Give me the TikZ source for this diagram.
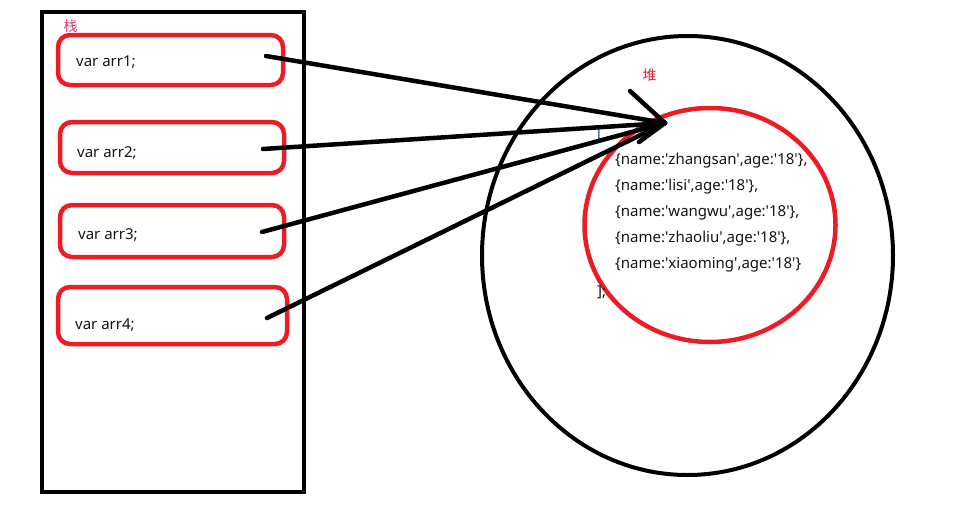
\documentclass[tikz,border=0pt]{standalone}
\usepackage{fontspec}
\setmainfont{Noto Sans}[Ligatures=TeXOff]
\newfontfamily\cjk{Noto Sans CJK SC}
\usetikzlibrary{shapes.geometric}
\definecolor{pred}{HTML}{ED1C24}
\definecolor{pink}{HTML}{E8366E}
\definecolor{txt}{HTML}{141414}
\definecolor{brk}{HTML}{1E4FA0}
\begin{document}
\begin{tikzpicture}[x=1pt,y=-1pt,
  frame/.style={draw=black,line width=4.5pt,inner sep=0pt},
  varbox/.style={draw=pred,line width=4.5pt,rounded corners=12pt,inner sep=0pt},
  ring/.style={ellipse,inner sep=0pt},
  lbl/.style={font=\fontsize{15}{18}\selectfont,text=txt,inner sep=0pt,anchor=west},
  arr/.style={line width=4.5pt,line cap=round,line join=round}]
\useasboundingbox (0,0) rectangle (956,517);
% stack
\node[frame,minimum width=262pt,minimum height=480pt] (stack) at (173,252) {};
\node[font=\cjk\fontsize{14}{16}\selectfont,text=pink,inner sep=0pt] (zhan) at (70.5,26.5) {栈};
\node[varbox,minimum width=225pt,minimum height=50pt] (b1) at (170.5,60) {};
\node[varbox,minimum width=224pt,minimum height=51pt] (b2) at (172,147.5) {};
\node[varbox,minimum width=224pt,minimum height=52pt] (b3) at (172,231) {};
\node[varbox,minimum width=229pt,minimum height=57pt] (b4) at (172.5,315.5) {};
\node[lbl] (t1) at (76,62) {var arr1;};
\node[lbl] (t2) at (77,153) {var arr2;};
\node[lbl] (t3) at (78,235) {var arr3;};
\node[lbl] (t4) at (75,325) {var arr4;};
% heap
\node[ring,draw=black,line width=4pt,minimum width=411pt,minimum height=439pt] (heap) at (687.5,255.5) {};
\node[ring,draw=pred,line width=4.5pt,minimum width=251pt,minimum height=234pt] (arrobj) at (710,225) {};
\node[font=\cjk\fontsize{14}{16}\selectfont,text=pred,inner sep=0pt] (dui) at (649.5,75) {堆};
\node[lbl,text=brk] (ob) at (597,133) {[};
\node[lbl] (r1) at (615,161) {\{name:'zhangsan',age:'18'\},};
\node[lbl] (r2) at (615,187) {\{name:'lisi',age:'18'\},};
\node[lbl] (r3) at (615,213) {\{name:'wangwu',age:'18'\},};
\node[lbl] (r4) at (615,239) {\{name:'zhaoliu',age:'18'\},};
\node[lbl] (r5) at (615,265) {\{name:'xiaoming',age:'18'\}};
\node[lbl] (cb) at (597,292) {];};
% pointers
\coordinate (tip) at (665,123);
\coordinate (s1) at (266,56);
\coordinate (s2) at (263,149);
\coordinate (s3) at (262,232);
\coordinate (s4) at (267,318);
\coordinate (h1) at (630,91);
\coordinate (h2) at (639,142);
\draw[arr] (s1) -- (tip);
\draw[arr] (s2) -- (tip);
\draw[arr] (s3) -- (tip);
\draw[arr] (s4) -- (tip);
\draw[arr] (h1) -- (tip) -- (h2);
\end{tikzpicture}
\end{document}
